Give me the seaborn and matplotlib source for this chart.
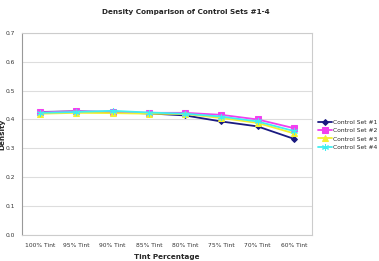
import matplotlib
matplotlib.use("Agg")
import matplotlib.pyplot as plt
import seaborn as sns
import pandas as pd
import numpy as np

categories = ["100% Tint", "95% Tint", "90% Tint", "85% Tint", "80% Tint", "75% Tint", "70% Tint", "60% Tint"]
set1 = [0.426, 0.428, 0.425, 0.421, 0.414, 0.393, 0.376, 0.333]
set2 = [0.425, 0.428, 0.427, 0.423, 0.423, 0.416, 0.400, 0.370]
set3 = [0.420, 0.423, 0.422, 0.420, 0.419, 0.405, 0.388, 0.352]
set4 = [0.423, 0.426, 0.430, 0.424, 0.420, 0.410, 0.393, 0.360]
series_names = ["Control Set #1", "Control Set #2", "Control Set #3", "Control Set #4"]

rows = []
for name, vals in zip(series_names, [set1, set2, set3, set4]):
    for i, v in enumerate(vals):
        rows.append({"idx": i, "Density": v, "Set": name})
df = pd.DataFrame(rows)

sns.set_style("white")
plt.rcParams['font.family'] = ['DejaVu Sans']

fig = plt.figure(figsize=(3.79, 2.61), dpi=100)
ax = fig.add_axes([0.058, 0.10, 0.765, 0.774])

palette = {"Control Set #1": "#1a1a80", "Control Set #2": "#f040f0",
           "Control Set #3": "#f2f030", "Control Set #4": "#40eef0"}
markers = {"Control Set #1": "D", "Control Set #2": "s",
           "Control Set #3": "^", "Control Set #4": (6, 2, 0)}
sizes_m = {"Control Set #1": 3, "Control Set #2": 4, "Control Set #3": 4, "Control Set #4": 5}

for name in series_names:
    sub = df[df["Set"] == name]
    sns.lineplot(data=sub, x="idx", y="Density", ax=ax, color=palette[name],
                 marker=markers[name], markersize=sizes_m[name], linewidth=1.3,
                 markeredgecolor=palette[name], label=name, sort=False)

ax.set_xlim(-0.5, len(categories) - 0.5)
ax.set_ylim(0, 0.7)
ax.set_yticks(np.arange(0, 0.71, 0.1))
ax.set_yticklabels([f"{v:.1f}" for v in np.arange(0, 0.71, 0.1)], fontsize=4.3, color="#333333")
ax.set_xticks(range(len(categories)))
ax.set_xticklabels(categories, fontsize=4.3, color="#333333")
ax.set_xticks(np.arange(-0.5, len(categories), 1), minor=True)
ax.tick_params(axis="x", which="major", length=0, pad=6)
ax.tick_params(axis="x", which="minor", length=3, color="#aaaaaa", width=0.6)
ax.tick_params(axis="y", length=3, color="#aaaaaa", width=0.6, pad=2)
ax.grid(axis="y", color="#dddddd", linewidth=0.8)
ax.set_axisbelow(True)
for s in ["top", "right", "bottom"]:
    ax.spines[s].set_color("#cccccc")
    ax.spines[s].set_linewidth(0.8)
ax.spines["left"].set_color("#999999")
ax.spines["left"].set_linewidth(0.8)

ax.set_xlabel("Tint Percentage", fontsize=5.2, fontweight="bold")
ax.xaxis.set_label_coords(0.5, -0.095)
ax.set_ylabel("Density", fontsize=5.2, fontweight="bold")
ax.yaxis.set_label_coords(-0.058, 0.5)
fig.suptitle("Density Comparison of Control Sets #1-4", fontsize=5.2, fontweight="bold", x=0.49, y=0.965)

leg = ax.legend(loc="center left", bbox_to_anchor=(1.021, 0.495), frameon=False, fontsize=4.3,
                handlelength=2.3, handletextpad=0.2, labelspacing=0.5, borderaxespad=0,
                borderpad=0)

fig.savefig("out.png", dpi=100)
